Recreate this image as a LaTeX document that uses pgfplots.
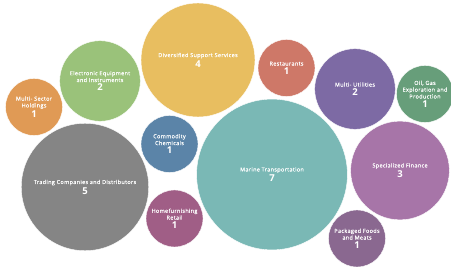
\documentclass[border=0pt]{standalone}
\usepackage{pgfplots}
\pgfplotsset{compat=1.18}
\usepackage{fontspec}
\setmainfont{Open Sans}[LetterSpace=6, FakeBold=0.4]
\newfontfamily\numfont{Open Sans}[BoldFont={* Bold}]
\definecolor{cOrange}{HTML}{E09A55}
\definecolor{cGreen}{HTML}{9AC27A}
\definecolor{cYellow}{HTML}{E8BE60}
\definecolor{cRed}{HTML}{CE7868}
\definecolor{cPurple}{HTML}{7D6AA4}
\definecolor{cDGreen}{HTML}{679E7A}
\definecolor{cBlue}{HTML}{5B84A8}
\definecolor{cGray}{HTML}{858585}
\definecolor{cPlum}{HTML}{A05E86}
\definecolor{cTeal}{HTML}{7AB8B5}
\definecolor{cViolet}{HTML}{A775A8}
\definecolor{cMauve}{HTML}{8A6890}
\newcommand{\bub}[5]{%
  \addplot[only marks, mark=*, color=#4, mark size={28.5*sqrt(#3)},
    mark options={draw=white, fill=#4, line width=0.4pt},
    nodes near coords={#5\\[1pt]{\numfont\fontsize{9.5}{10}\selectfont\bfseries #3}}]
    coordinates {(#1,#2)};}
\begin{document}
\begin{tikzpicture}
\begin{axis}[
  scale only axis, width=451pt, height=268pt,
  xmin=0, xmax=451, ymin=0, ymax=268,
  hide axis, clip marker paths=true,
  every node near coord/.style={anchor=center, align=center, text=white,
    font=\fontsize{5.5}{6.8}\selectfont},
]
\bub{34}{161}{1}{cOrange}{Multi- Sector\\Holdings}
\bub{100}{187}{2}{cGreen}{Electronic Equipment\\and Instruments}
\bub{198}{208}{4}{cYellow}{Diversified Support Services}
\bub{286.5}{200}{1}{cRed}{Restaurants}
\bub{355}{179}{2}{cPurple}{Multi- Utilities}
\bub{425}{174}{1}{cDGreen}{Oil, Gas\\Exploration and\\Production}
\bub{169.5}{124}{1}{cBlue}{Commodity\\Chemicals}
\bub{85}{81}{5}{cGray}{Trading Companies and Distributors}
\bub{174.5}{49.5}{1}{cPlum}{Homefurnishing\\Retail}
\bub{272}{93.5}{7}{cTeal}{Marine Transportation}
\bub{400}{97.5}{3}{cViolet}{Specialized Finance}
\bub{357}{29.5}{1}{cMauve}{Packaged Foods\\and Meats}
\end{axis}
\pgfresetboundingbox
\path (0,0) rectangle (451pt,268pt);
\end{tikzpicture}
\end{document}
